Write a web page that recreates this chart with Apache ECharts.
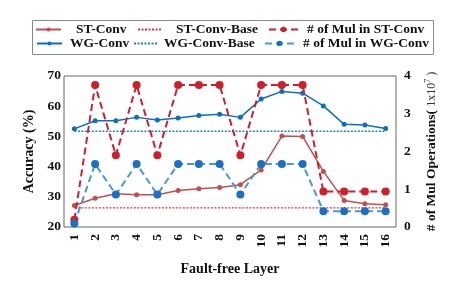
<!DOCTYPE html>
<html><head><meta charset="utf-8">
<script src="https://cdn.jsdelivr.net/npm/echarts@6/dist/echarts.min.js"></script>
<style>html,body{margin:0;padding:0;background:#fff}#c{width:457px;height:296px}</style>
</head><body><div id="c"></div>
<script>
const categories = ['1','2','3','4','5','6','7','8','9','10','11','12','13','14','15','16'];
const stConv   = [27.1,29.5,31.0,30.7,30.7,32.1,32.7,33.1,34.0,38.9,50.1,50.0,38.4,28.8,27.7,27.4];
const wgConv   = [52.5,55.2,55.2,56.3,55.4,56.1,56.9,57.3,56.3,62.4,64.9,64.3,60.1,54.0,53.8,52.6];
const stBase   = 26.3;
const wgBase   = 51.7;
const mulST    = [0.19,3.76,1.90,3.76,1.90,3.76,3.76,3.76,1.90,3.76,3.76,3.76,0.94,0.94,0.94,0.94];
const mulWG    = [0.09,1.67,0.86,1.67,0.86,1.67,1.67,1.67,0.86,1.67,1.67,1.67,0.42,0.42,0.42,0.42];
const leftTicks = [20,30,40,50,60,70];
const rightTicks = [0,1,2,3,4];

const FONT = 'Liberation Serif';
const txt = {fontFamily: FONT, fontWeight: 'bold', fontSize: 13.5, color: '#111'};

const C_ST = '#c0504d', C_STB = '#e4343a', C_MST = '#cf1f2b';
const C_WG = '#0b6fc0', C_WGB = '#1f80d8', C_MWG = '#4a96d8', C_MWGs = '#1a70c2';

function leg(name, left, top, w, h, pad, hideSym) {
  const o = {data: [name], left: left, top: top - 8.5, itemWidth: w, itemHeight: h,
    padding: 0, textStyle: Object.assign({}, txt, {padding: [0,0,0,pad]})};
  if (hideSym) o.itemStyle = {opacity: 0};
  return o;
}

const chart = echarts.init(document.getElementById('c'), null, {renderer: 'canvas'});
chart.setOption({
  animation: false,
  backgroundColor: '#fff',
  graphic: [{type: 'rect', shape: {x: 32.5, y: 20.5, width: 401, height: 34},
    style: {fill: '#fff', stroke: '#8a8a8a', lineWidth: 1}, z: -1}],
  legend: [
    leg('ST-Conv', 35, 31, 25, 5, 10, false),
    leg('WG-Conv', 36, 45, 25, 5, 3, false),
    leg('ST-Conv-Base', 137, 31, 24, 6, 9, true),
    leg('WG-Conv-Base', 133, 45, 24, 6, 1, true),
    leg('# of Mul in ST-Conv', 268, 31, 29, 7, 4, false),
    leg('# of Mul in WG-Conv', 264, 45, 29, 7, 4, false)
  ],
  grid: {left: 64, right: 61, top: 76, bottom: 69, show: true, borderColor: '#666', borderWidth: 1, backgroundColor: 'transparent'},
  xAxis: {
    type: 'category', data: categories, boundaryGap: true,
    name: 'Fault-free Layer', nameLocation: 'middle', nameGap: 35,
    nameTextStyle: Object.assign({}, txt, {fontSize: 14}),
    axisLine: {show: false}, axisTick: {show: false},
    axisLabel: Object.assign({}, txt, {rotate: 90, margin: 7, interval: 0})
  },
  yAxis: [{
    type: 'value', min: 20, max: 70, interval: 10,
    name: 'Accuracy (%)', nameLocation: 'middle', nameGap: 28, nameRotate: 90,
    nameTextStyle: Object.assign({}, txt, {fontSize: 14}),
    axisLine: {show: false}, axisTick: {show: false}, splitLine: {show: false},
    axisLabel: Object.assign({}, txt, {margin: 3, customValues: leftTicks})
  }, {
    type: 'value', min: 0, max: 4, interval: 1, position: 'right',
    name: '{b|# of Mul Operations(} {n|1x10}{s|7}{n| )}', nameLocation: 'middle', nameGap: 28, nameRotate: 90,
    nameTextStyle: {rich: {
      b: Object.assign({}, txt, {fontSize: 13.5}),
      n: {fontFamily: FONT, fontSize: 12, color: '#333'},
      s: {fontFamily: FONT, fontSize: 8, color: '#333', verticalAlign: 'top', padding: [0,0,8,0]}
    }},
    axisLine: {show: false}, axisTick: {show: false}, splitLine: {show: false},
    axisLabel: Object.assign({}, txt, {margin: 8, customValues: rightTicks})
  }],
  series: [
    {name: 'ST-Conv', type: 'line', data: stConv, yAxisIndex: 0, symbol: 'circle', symbolSize: 5,
     lineStyle: {color: C_ST, width: 1.5}, itemStyle: {color: C_ST}, z: 3},
    {name: 'ST-Conv-Base', type: 'line', data: categories.map(() => stBase), yAxisIndex: 0, symbol: 'none',
     lineStyle: {color: C_STB, width: 1.2, type: [2, 1.5]}, itemStyle: {color: C_STB}, z: 2},
    {name: '# of Mul in ST-Conv', type: 'line', data: mulST, yAxisIndex: 1, symbol: 'circle', symbolSize: 8,
     lineStyle: {color: C_MST, width: 2, type: [7, 4]}, itemStyle: {color: C_MST}, z: 4},
    {name: 'WG-Conv', type: 'line', data: wgConv, yAxisIndex: 0, symbol: 'circle', symbolSize: 5,
     lineStyle: {color: C_WG, width: 1.5}, itemStyle: {color: C_WG}, z: 3},
    {name: 'WG-Conv-Base', type: 'line', data: categories.map(() => wgBase), yAxisIndex: 0, symbol: 'none',
     lineStyle: {color: C_WGB, width: 1.5, type: [2, 1.5]}, itemStyle: {color: C_WGB}, z: 2},
    {name: '# of Mul in WG-Conv', type: 'line', data: mulWG, yAxisIndex: 1, symbol: 'circle', symbolSize: 8,
     lineStyle: {color: C_MWG, width: 2, type: [7, 4]}, itemStyle: {color: C_MWGs}, z: 4}
  ]
});
</script></body></html>
